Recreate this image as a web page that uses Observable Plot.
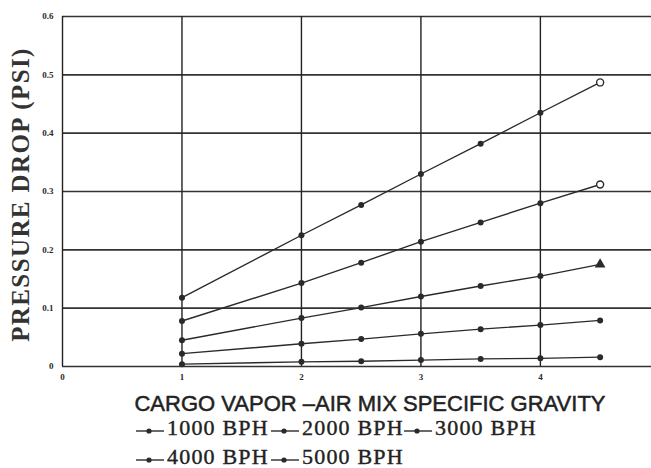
<!DOCTYPE html>
<html>
<head>
<meta charset="utf-8">
<script src="https://cdn.jsdelivr.net/npm/d3@7"></script>
<script src="https://cdn.jsdelivr.net/npm/@observablehq/plot@0.6"></script>
<style>
  html, body { margin: 0; padding: 0; background: #fff; }
  #wrap { position: relative; width: 651px; height: 468px; overflow: hidden; background: #fff; }
  #chart { position: absolute; left: 0; top: 0; }
  .xt { position: absolute; left: 0; width: 740px; text-align: center; top: 393px;
        font-family: "Liberation Sans", Arial, sans-serif; font-size: 22px; line-height: 22px;
        color: #222; white-space: nowrap; -webkit-text-stroke: 0.5px #222; }
  .lg { position: absolute; font-family: "Liberation Serif", "Times New Roman", serif;
        font-size: 22px; line-height: 20px; color: #222; white-space: nowrap; letter-spacing: 1.2px;
        -webkit-text-stroke: 0.4px #222; }
  .mk { position: absolute; }
</style>
</head>
<body>
<div id="wrap">
  <div id="chart"></div>
  <div class="xt">CARGO VAPOR –AIR MIX SPECIFIC GRAVITY</div>
  <div id="legend"></div>
</div>
<script>
// Data
const gravity = [1, 2, 2.5, 3, 3.5, 4, 4.5];
const seriesNames = ["1000 BPH", "2000 BPH", "3000 BPH", "4000 BPH", "5000 BPH"];
const bph1000 = [0.004, 0.008, 0.009, 0.011, 0.013, 0.014, 0.016];
const bph2000 = [0.022, 0.039, 0.047, 0.056, 0.064, 0.071, 0.079];
const bph3000 = [0.045, 0.083, 0.101, 0.120, 0.138, 0.155, 0.175];
const bph4000 = [0.078, 0.143, 0.178, 0.214, 0.247, 0.280, 0.312];
const bph5000 = [0.118, 0.225, 0.277, 0.330, 0.382, 0.435, 0.487];
const xTicks = [0, 1, 2, 3, 4];
const yTicks = [0, 0.1, 0.2, 0.3, 0.4, 0.5, 0.6];
const yTitle = "PRESSURE DROP (PSI)";

const values = [bph1000, bph2000, bph3000, bph4000, bph5000];
const rows = [];
values.forEach((arr, i) => arr.forEach((v, j) => rows.push({series: seriesNames[i], idx: i, g: gravity[j], p: v, last: j === arr.length - 1})));

const ink = "#2a2a2a";
const chart = Plot.plot({
  width: 651,
  height: 392,
  marginLeft: 62,
  marginRight: 0,
  marginTop: 16,
  marginBottom: 26,
  x: {domain: [0, 4.93]},
  y: {domain: [0, 0.6]},
  style: {background: "transparent", fontFamily: "Liberation Serif, serif", color: ink},
  marks: [
    Plot.ruleY(yTicks, {stroke: "#333", strokeWidth: 1.7}),
    Plot.ruleX(xTicks, {stroke: "#222", strokeWidth: 1.4}),
    Plot.axisY(yTicks, {tickSize: 0, tickPadding: 9, fontSize: 9, fontWeight: "bold", label: null,
      tickFormat: d => d === 0 ? "0" : d.toFixed(1)}),
    Plot.axisX(xTicks, {tickSize: 0, tickPadding: 7, fontSize: 9, fontWeight: "bold", label: null,
      tickFormat: d => String(d)}),
    Plot.line(rows, {x: "g", y: "p", z: "series", stroke: ink, strokeWidth: 1.4}),
    Plot.dot(rows.filter(d => !(d.last && d.idx >= 2)), {x: "g", y: "p", r: 3, fill: ink}),
    Plot.dot(rows.filter(d => d.last && d.idx >= 3), {x: "g", y: "p", r: 3.5, fill: "white", stroke: ink, strokeWidth: 1.4}),
    Plot.dot(rows.filter(d => d.last && d.idx === 2), {x: "g", y: "p", r: 4, symbol: "triangle", fill: ink}),
    Plot.text([yTitle], {frameAnchor: "left", textAnchor: "middle", rotate: -90, dx: -42, dy: 3,
      fontSize: 25, fontWeight: "bold", fill: "#333", text: d => d})
  ]
});
document.getElementById("chart").appendChild(chart);
// spread letters of the rotated title a little
chart.querySelectorAll("text").forEach(t => { if (t.textContent === yTitle) t.setAttribute("letter-spacing", "1.4"); });

// Legend (HTML, below the SVG)
const legendPos = [
  {left: 167, top: 417.5}, {left: 302, top: 417.5}, {left: 435, top: 417.5},
  {left: 167, top: 447}, {left: 302, top: 447}
];
const lg = document.getElementById("legend");
seriesNames.forEach((name, i) => {
  const p = legendPos[i];
  const mk = document.createElementNS("http://www.w3.org/2000/svg", "svg");
  mk.setAttribute("class", "mk");
  mk.setAttribute("width", 32); mk.setAttribute("height", 10);
  mk.style.left = (p.left - 33) + "px"; mk.style.top = (p.top + 8) + "px";
  mk.innerHTML = `<line x1="2" x2="30" y1="5" y2="5" stroke="${ink}" stroke-width="1.4"/><circle cx="15" cy="5" r="2.6" fill="${ink}"/>`;
  lg.appendChild(mk);
  const t = document.createElement("div");
  t.className = "lg";
  t.textContent = name;
  t.style.left = p.left + "px"; t.style.top = p.top + "px";
  lg.appendChild(t);
});
</script>
</body>
</html>
